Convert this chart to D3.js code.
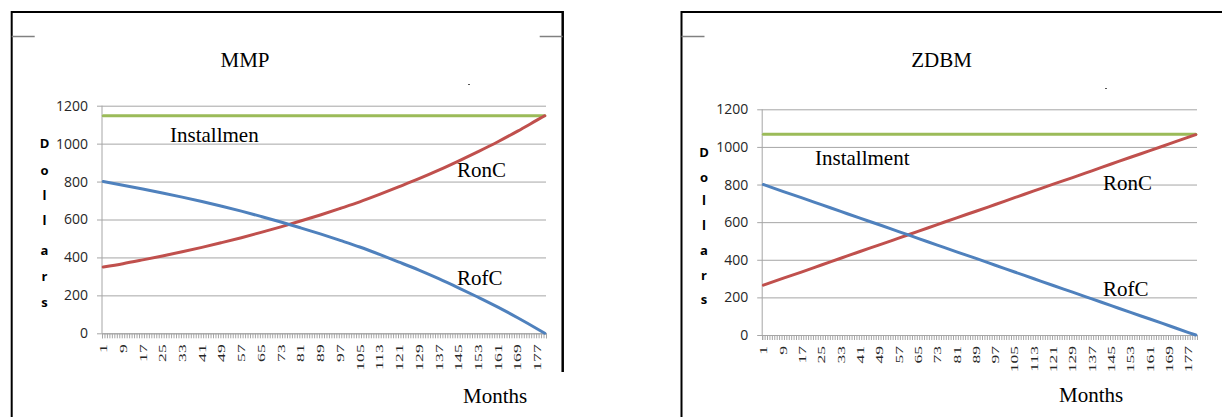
<!DOCTYPE html>
<html>
<head>
<meta charset="utf-8">
<script src="https://cdn.jsdelivr.net/npm/d3@7"></script>
<style>
  body { margin: 0; background: #fff; }
  svg { display: block; }
</style>
</head>
<body>
<div id="div_charts"></div>
<script>
// categories (months) and tick labels
const months = d3.range(1, 181);
const monthTicks = [1, 9, 17, 25, 33, 41, 49, 57, 65, 73, 81, 89, 97, 105, 113, 121, 129, 137, 145, 153, 161, 169, 177];
const yTicks = [0, 200, 400, 600, 800, 1000, 1200];

const sampleMonths = [1, 9, 17, 25, 33, 41, 49, 57, 65, 73, 81, 89, 97, 105, 113, 121, 129, 137, 145, 153, 161, 169, 177, 180];

// MMP series
const mmpInstallment = [1147, 1147, 1147, 1147, 1147, 1147, 1147, 1147, 1147, 1147, 1147, 1147, 1147, 1147, 1147, 1147, 1147, 1147, 1147, 1147, 1147, 1147, 1147, 1147];
const mmpRonC = [350, 367, 387, 408, 430, 453, 478, 504, 532, 561, 592, 624, 658, 693, 732, 773, 815, 860, 908, 958, 1010, 1066, 1125, 1147];
const mmpRofC = [800, 781, 761, 740, 718, 695, 670, 644, 616, 587, 556, 524, 490, 455, 416, 375, 333, 288, 240, 190, 138, 82, 23, 0];

// ZDBM series
const zdbmInstallment = [1067, 1067, 1067, 1067, 1067, 1067, 1067, 1067, 1067, 1067, 1067, 1067, 1067, 1067, 1067, 1067, 1067, 1067, 1067, 1067, 1067, 1067, 1067, 1067];
const zdbmRonC = [265, 301, 336, 372, 408, 444, 479, 515, 551, 587, 623, 658, 694, 730, 766, 802, 837, 873, 909, 945, 980, 1016, 1052, 1065];
const zdbmRofC = [800, 764, 729, 693, 657, 621, 586, 550, 514, 478, 442, 407, 371, 335, 299, 263, 228, 192, 156, 120, 85, 49, 13, 0];

const svg_width = 1222;
const svg_height = 417;

const svg = d3.select("#div_charts")
  .append("svg")
    .attr("width", svg_width)
    .attr("height", svg_height);

const colors = { green: "#9bbb59", red: "#c0504d", blue: "#4f81bd" };

function drawChart(cfg) {
    const g = svg.append("g");

    // frame around the pasted picture
    g.append("line").attr("x1", cfg.frameL).attr("x2", cfg.frameR).attr("y1", 12).attr("y2", 12)
        .attr("stroke", "#000").attr("stroke-width", 2);
    g.append("line").attr("x1", cfg.frameL).attr("x2", cfg.frameL).attr("y1", 11).attr("y2", svg_height)
        .attr("stroke", "#000").attr("stroke-width", 2);
    if (cfg.hasRight) {
        g.append("line").attr("x1", cfg.frameR).attr("x2", cfg.frameR).attr("y1", 11).attr("y2", 372)
            .attr("stroke", "#000").attr("stroke-width", 2.5);
        g.append("line").attr("x1", cfg.frameR - 23).attr("x2", cfg.frameR).attr("y1", 36.5).attr("y2", 36.5)
            .attr("stroke", "#808080").attr("stroke-width", 1.5);
    }
    g.append("line").attr("x1", cfg.frameL).attr("x2", cfg.frameL + 23).attr("y1", 36.5).attr("y2", 36.5)
        .attr("stroke", "#808080").attr("stroke-width", 1.5);

    const clipId = "clip" + cfg.id;
    svg.append("clipPath").attr("id", clipId)
      .append("rect").attr("x", cfg.frameL).attr("y", 12).attr("width", 700).attr("height", 360);

    const x = d3.scaleBand().domain(months).range([cfg.plotL, cfg.plotR]);
    const xb = d3.scaleLinear().domain([0, 180]).range([cfg.plotL, cfg.plotR]);
    const y = d3.scaleLinear().domain([0, 1200]).range([cfg.y0, cfg.y1200]);

    // gridlines + y labels
    g.append("g")
        .attr("transform", `translate(${cfg.plotL - 5},0)`)
        .call(d3.axisLeft(y).tickValues(yTicks).tickFormat(d3.format("d"))
            .tickSize(-(cfg.plotR - cfg.plotL + 5)).tickPadding(9))
        .call(a => a.select(".domain").remove())
        .call(a => a.selectAll("line").attr("stroke", "#a6a6a6"))
        .call(a => a.selectAll("text")
            .attr("font-family", "'Open Sans', sans-serif")
            .attr("font-size", 14)
            .attr("fill", "#262626"));

    // y axis line
    g.append("line").attr("x1", cfg.plotL).attr("x2", cfg.plotL).attr("y1", cfg.y1200).attr("y2", cfg.y0)
        .attr("stroke", "#a6a6a6");

    // x axis with a tick between each month
    g.append("g")
        .attr("transform", `translate(0,${cfg.y0})`)
        .call(d3.axisBottom(xb).tickValues(d3.range(0, 181)).tickSize(5).tickFormat(""))
        .call(a => a.select(".domain").attr("stroke", "#a6a6a6"))
        .call(a => a.selectAll("line").attr("stroke", "#a6a6a6"));

    // month labels, rotated
    g.append("g").attr("clip-path", `url(#${clipId})`)
      .selectAll("text")
      .data(monthTicks)
      .join("text")
        .attr("transform", d => `translate(${x(d) + x.bandwidth() / 2},${cfg.y0 + 11}) rotate(-90) scale(1.6,1)`)
        .attr("text-anchor", "end")
        .attr("dy", "0.35em")
        .attr("font-family", "'Liberation Serif', serif")
        .attr("font-size", 11)
        .attr("fill", "#262626")
        .text(d => d);

    // series
    const line = d3.line()
        .x(d => x(d[0]) + x.bandwidth() / 2)
        .y(d => y(d[1]))
        .curve(d3.curveMonotoneX);

    cfg.series.forEach(s => {
        g.append("path")
            .datum(sampleMonths.map((m, i) => [m, s.values[i]]))
            .attr("fill", "none")
            .attr("stroke", s.color)
            .attr("stroke-width", 3)
            .attr("stroke-linecap", "round")
            .attr("d", line);
    });

    // title
    g.append("text").attr("x", cfg.titleX).attr("y", 66.5)
        .attr("text-anchor", "middle")
        .attr("font-family", "'Liberation Serif', serif")
        .attr("font-size", 21)
        .text(cfg.title);

    // axis title, stacked letters
    g.selectAll(".yl")
      .data("Dollars".split(""))
      .join("text")
        .attr("x", cfg.dollarX)
        .attr("y", (d, i) => cfg.dollarY[i])
        .attr("dy", "0.35em")
        .attr("text-anchor", "middle")
        .attr("font-family", "'Open Sans', sans-serif")
        .attr("font-weight", "bold")
        .attr("font-size", 13)
        .text(d => d);

    // labels written on the chart
    cfg.notes.forEach(n => {
        g.append("text").attr("x", n[1]).attr("y", n[2])
            .attr("font-family", "'Liberation Serif', serif")
            .attr("font-size", 21)
            .text(n[0]);
    });

    g.append("rect").attr("x", cfg.dot[0]).attr("y", cfg.dot[1]).attr("width", 2).attr("height", 1).attr("fill", "#555");
}

drawChart({
    id: 0, title: "MMP", titleX: 245,
    frameL: 11.7, frameR: 562.7, hasRight: true,
    plotL: 102, plotR: 546, y0: 333.3, y1200: 105.7,
    dollarX: 44.5, dollarY: [143, 170, 195, 220, 250, 276, 302],
    series: [
        { values: mmpInstallment, color: colors.green },
        { values: mmpRonC, color: colors.red },
        { values: mmpRofC, color: colors.blue }
    ],
    notes: [["Installmen", 170, 142], ["RonC", 457, 177], ["RofC", 457, 285], ["Months", 463, 403]],
    dot: [468, 84]
});

drawChart({
    id: 1, title: "ZDBM", titleX: 941.5,
    frameL: 681.5, frameR: 1300, hasRight: false,
    plotL: 762.2, plotR: 1197, y0: 335, y1200: 109.3,
    dollarX: 704, dollarY: [152, 177, 200, 225, 250, 275, 299],
    series: [
        { values: zdbmInstallment, color: colors.green },
        { values: zdbmRonC, color: colors.red },
        { values: zdbmRofC, color: colors.blue }
    ],
    notes: [["Installment", 815, 165], ["RonC", 1103, 190], ["RofC", 1103, 296], ["Months", 1059, 402]],
    dot: [1105, 88]
});
</script>
</body>
</html>
